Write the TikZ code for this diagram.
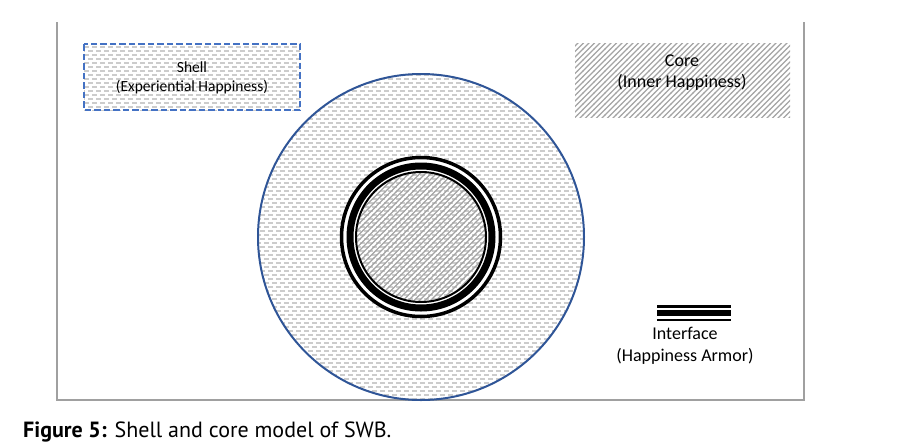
\documentclass[tikz,border=0pt]{standalone}
\usepackage{fontspec}
\setmainfont{Carlito}
\newfontfamily\capfont{PT Sans}
\usetikzlibrary{patterns}
\pgfdeclarepatternformonly{hdash}{\pgfpoint{-1pt}{-1pt}}{\pgfpoint{9pt}{9pt}}{\pgfpoint{8pt}{8pt}}{%
  \pgfsetlinewidth{1.2pt}%
  \pgfpathmoveto{\pgfpoint{0pt}{2pt}}\pgfpathlineto{\pgfpoint{4.5pt}{2pt}}%
  \pgfpathmoveto{\pgfpoint{4pt}{6pt}}\pgfpathlineto{\pgfpoint{8.5pt}{6pt}}%
  \pgfusepath{stroke}}
\pgfdeclarepatternformonly{diaghatch}{\pgfpoint{-1pt}{-1pt}}{\pgfpoint{6.5pt}{6.5pt}}{\pgfpoint{5.5pt}{5.5pt}}{%
  \pgfsetlinewidth{1.4pt}%
  \pgfpathmoveto{\pgfpoint{-0.2pt}{-0.2pt}}\pgfpathlineto{\pgfpoint{5.7pt}{5.7pt}}%
  \pgfusepath{stroke}}
\definecolor{shellblue}{HTML}{4472C4}
\definecolor{circblue}{HTML}{2F5597}
\definecolor{framegray}{HTML}{A0A0A0}
\definecolor{dashgray}{HTML}{CCCCCC}
\definecolor{hatchgray}{HTML}{A4A4A4}
\begin{document}
\begin{tikzpicture}[x=1pt,y=-1pt,
  shellfill/.style={pattern=hdash,pattern color=dashgray},
  corefill/.style={pattern=diaghatch,pattern color=hatchgray},
  lbl/.style={inner sep=0pt,align=center,text=black}]
\useasboundingbox (0,0) rectangle (911,445);
% frame
\draw[framegray,line width=2.5pt] (57,22) -- (57,400) -- (804,400) -- (804,22);
% legend boxes
\path[shellfill] (84,44) rectangle (300,110);
\draw[shellblue,line width=2.2pt,dash pattern=on 6.5pt off 3pt] (84,44) rectangle (300,110);
\node[lbl,font=\fontsize{15.5}{19}\selectfont] (shell) at (192,78) {Shell\\(Experiential Happiness)};
\path[corefill] (575,43) rectangle (790,117);
\node[lbl,font=\fontsize{18}{21}\selectfont] (core) at (682,73) {Core\\(Inner Happiness)};
% big circle
\draw[circblue,line width=2pt,shellfill] (421,237) circle[radius=163];
\path[even odd rule,fill=white] (421,237) circle[radius=79.5] (421,237) circle[radius=64];
\path[corefill] (421,237) circle[radius=64.5];
\draw[black,line width=3.5pt] (421,237) circle[radius=79.5];
\draw[black,line width=7pt] (421,237) circle[radius=71];
\draw[black,line width=2pt] (421,237) circle[radius=65];
% interface legend
\draw[black,line width=2.6pt] (657,306.3) -- (731,306.3);
\draw[black,line width=5.2pt] (657,313) -- (731,313);
\draw[black,line width=2.4pt] (657,320.2) -- (731,320.2);
\node[lbl,font=\fontsize{18}{22}\selectfont] (iface) at (685,346) {Interface\\(Happiness Armor)};
% caption
\node[inner sep=0pt,anchor=base west,font=\capfont\fontsize{22}{26}\selectfont] (cap) at (23,437) {\textbf{Figure 5:} Shell and core model of SWB.};
\end{tikzpicture}
\end{document}
